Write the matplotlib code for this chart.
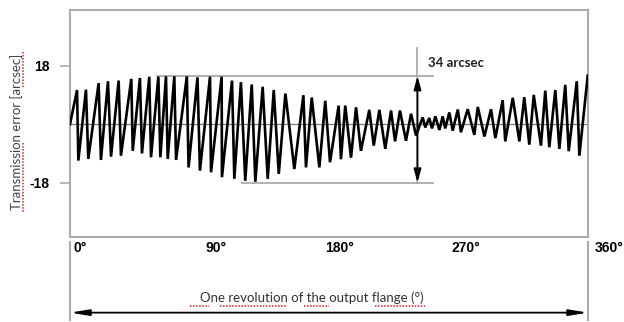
import matplotlib.pyplot as plt
from matplotlib.lines import Line2D

# vertices of the zigzag trace (degrees, arcsec)
angle = [0, 4.9, 5.8, 11.1, 12.7, 19.9, 21.5, 26.4, 28.5, 33.8, 35.4, 42.6, 43.6,
         48.6, 50.0, 55.1, 56.3, 61.4, 62.8, 66.7, 67.9, 72.5, 73.7, 81.2, 82.4,
         88.6, 90.3, 97.3, 98.0, 105.4, 105.6, 112.6, 114.2, 118.8, 121.8, 126.3,
         128.8, 133.9, 137.4, 141.6, 145.1, 149.7, 155.9, 162.2, 164.0, 168.0,
         173.3, 177.4, 180.7, 186.7, 188.3, 191.3, 195.3, 198.8, 202.2, 208.0,
         211.1, 215.0, 219.1, 223.1, 225.9, 229.3, 233.5, 237.0, 240.5, 245.1,
         246.9, 249.7, 251.6, 253.9, 256.7, 259.0, 260.8, 263.6, 266.0, 269.5,
         271.7, 276.4, 281.0, 283.4, 288.0, 292.6, 295.6, 300.7, 302.5, 307.7,
         312.3, 315.7, 319.2, 322.3, 327.3, 330.3, 333.1, 337.3, 340.1, 344.2,
         346.6, 352.2, 354.0, 359.8]
error = [0, 10.5, -11.2, 10.6, -10.7, 12.6, -11.0, 13.2, -10.0, 13.4, -9.7, 13.9, -8.2,
         14.2, -9.0, 14.6, -10.2, 14.6, -10.2, 14.7, -10.7, 14.7, -11.0, 14.7, -13.3,
         14.4, -14.3, 14.6, -14.8, 14.6, -16.3, 13.4, -16.8, 12.9, -17.4, 12.2,
         -17.7, 11.5, -16.8, 10.5, -15.3, 9.4, -13.8, 8.9, -13.3, 8.2,
         -13.3, 7.2, -11.7, 5.7, -10.8, 5.7, -10.3, 5.2, -8.2, 4.4,
         -6.6, 4.4, -7.6, 4.2, -5.3, 4.2, -5.1, 3.2, -3.5, 2.1,
         -1.0, 1.9, -1.3, 2.4, -1.8, 2.4, -1.3, 3.6, -2.0, 4.5,
         -2.5, 4.6, -3.3, 5.3, -3.8, 4.6, -4.3, 7.4, -5.3, 8.1,
         -5.3, 8.3, -6.3, 9.0, -6.6, 10.3, -7.1, 10.5, -7.6, 12.1,
         -8.3, 13.2, -9.7, 14.9]

yticks = [18, -18]
xlabels = ['0°', '90°', '180°', '270°', '360°']
xlabel_pos = [7.3, 101.5, 187, 275, 375]
peak_max, trough_min = 14.8, -18
span_label = '34 arcsec'

W, H = 624, 322
fig = plt.figure(figsize=(W / 100, H / 100), dpi=100)
ax = fig.add_axes([70 / W, 1 - 236.7 / H, 518 / W, 226.7 / H])
gray = '#ababab'

ax.plot(angle, error, color='black', lw=1.9, solid_joinstyle='miter', zorder=3)
ax.axhline(0, color='#7a7a7a', lw=0.9, zorder=2)

ax.set_xlim(0, 360)
ax.set_ylim(-34.6, 35.1)
for s in ax.spines.values():
    s.set_color(gray)
    s.set_linewidth(1.5)
ax.set_xticks([])
ax.set_yticks(yticks)
ax.set_yticklabels([str(t) for t in yticks], fontfamily='Liberation Sans',
                   fontweight='bold', fontsize=10)
ax.tick_params(axis='y', length=7, width=1.2, color=gray, pad=8)

# reference lines for the peak-to-peak span
ax.plot([60.4, 252.3], [peak_max, peak_max], color=gray, lw=1.3, zorder=1)
ax.plot([119.5, 252.3], [trough_min, trough_min], color=gray, lw=1.3, zorder=1)
ax.plot([241.5, 241.5], [peak_max, 23.4], color=gray, lw=1.3, zorder=1)
ax.annotate('', xy=(241.5, peak_max), xytext=(241.5, trough_min),
            arrowprops=dict(arrowstyle='<|-|>,head_length=0.8,head_width=0.22',
                            color='black', lw=1.3, shrinkA=0, shrinkB=0,
                            mutation_scale=10))
ax.plot([241.5, 241.5], [trough_min, peak_max], color=gray, lw=1.3, zorder=1)
ax.text(248.6, 18.7, span_label, fontfamily='Lato', fontweight='bold', fontsize=9.5,
        va='center', ha='left', color='#222222')

# dimension line below the plot
tr = ax.get_xaxis_transform()
for xv in [0, 360]:
    ax.plot([xv, xv], [-0.022, -0.367], transform=tr, color=gray, lw=1.5, clip_on=False)
ax.annotate('', xy=(0, -0.335), xytext=(360, -0.335), xycoords=tr, textcoords=tr,
            arrowprops=dict(arrowstyle='<|-|>,head_length=1.1,head_width=0.18',
                            color='black', lw=1.3, shrinkA=0, shrinkB=0,
                            mutation_scale=10))
for lab, xv in zip(xlabels, xlabel_pos):
    ax.text(xv, -0.05, lab, transform=tr, ha='center', va='center',
            fontfamily='Liberation Sans', fontweight='bold', fontsize=10, clip_on=False)

fig.text(312 / W, 1 - 298 / H, 'One revolution of the output flange (°)',
         fontfamily='Lato', fontsize=9.5, ha='center', va='center', color='#333333')
fig.text(17 / W, 1 - 132 / H, 'Transmission error [arcsec]', rotation=90,
         fontfamily='Lato', fontsize=9.5, ha='center', va='center', color='#444444')

# red spell-check squiggles
def squiggle(x0, y0, x1, y1):
    fig.add_artist(Line2D([x0 / W, x1 / W], [1 - y0 / H, 1 - y1 / H], color='#e02020',
                          lw=1.1, ls=(0, (1, 1))))

for a, b in [(190, 209), (220, 287), (304, 329), (375, 425)]:
    squiggle(a, 306, b, 306)
squiggle(23, 143, 23, 213)
squiggle(23, 52, 23, 88)

fig.savefig('out.png', dpi=100)
